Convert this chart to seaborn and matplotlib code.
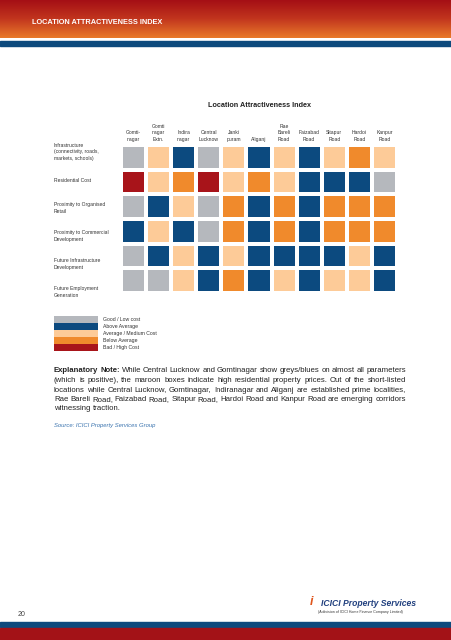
import numpy as np
import pandas as pd
import matplotlib
matplotlib.use("Agg")
import matplotlib.pyplot as plt
import seaborn as sns
from matplotlib.colors import ListedColormap, LinearSegmentedColormap
from matplotlib.patches import Rectangle

sns.set_theme(style="white")
plt.rcParams['font.family'] = ['Liberation Sans', 'DejaVu Sans']

# ---------------- data ----------------
locations = ["Gomti-\nnagar", "Gomti\nnagar\nExtn.", "Indira\nnagar", "Central\nLucknow",
             "Janki\npuram", "Aliganj", "Rae\nBareli\nRoad", "Faizabad\nRoad",
             "Sitapur\nRoad", "Hardoi\nRoad", "Kanpur\nRoad"]
parameters = ["Infrastructure\n(connectivity, roads,\nmarkets, schools)", "Residential Cost",
              "Proximity to Organised\nRetail", "Proximity to Commercial\nDevelopment",
              "Future Infrastructure\nDevelopment", "Future Employment\nGeneration"]
levels = ["Good / Low cost", "Above Average", "Average / Medium Cost", "Below Average", "Bad / High Cost"]
level_colors = ["#B5B8BD", "#0C4A7F", "#FDCB98", "#F08A2C", "#A8141A"]

# rating level index (0..4 -> levels) per location
infrastructure      = [0, 2, 1, 0, 2, 1, 2, 1, 2, 3, 2]
residential_cost    = [4, 2, 3, 4, 2, 3, 2, 1, 1, 1, 0]
organised_retail    = [0, 1, 2, 0, 3, 1, 3, 1, 3, 3, 3]
commercial_dev      = [1, 2, 1, 0, 3, 1, 3, 1, 3, 3, 3]
future_infra        = [0, 1, 2, 1, 2, 1, 1, 1, 1, 2, 1]
future_employment   = [0, 0, 2, 1, 3, 1, 2, 1, 2, 2, 1]

title = "Location Attractiveness Index"
header = "LOCATION ATTRACTIVENESS INDEX"
note_lines = [
    "While Central Lucknow and Gomtinagar show greys/blues on almost all parameters",
    "(which is positive), the maroon boxes indicate high residential property prices. Out of the short-listed",
    "locations while Central Lucknow, Gomtinagar, Indiranagar and Aliganj are established prime localities,",
    "Rae Bareli Road, Faizabad Road, Sitapur Road, Hardoi Road and Kanpur Road are emerging corridors",
    "witnessing traction.",
]
note_prefix = "Explanatory Note:"
source = "Source: ICICI Property Services Group"

# ---------------- figure ----------------
W, H = 452, 640
fig = plt.figure(figsize=(W / 100, H / 100), dpi=100)
fig.patch.set_facecolor("white")

def fx(px):
    return px / W

def fy(py):
    return 1 - py / H

# header gradient
hax = fig.add_axes([0, fy(38), 1, 38 / H])
grad = LinearSegmentedColormap.from_list("hdr", ["#A50F15", "#C2361E", "#E9792A"])
hax.imshow(np.linspace(0, 1, 64).reshape(-1, 1), aspect="auto", cmap=grad,
           extent=[0, 1, 0, 1])
hax.axis("off")
fig.patches.append(Rectangle((0, fy(46)), 1, 5 / H, transform=fig.transFigure,
                             color="#0D4A7D", zorder=0))
fig.text(fx(32), fy(22), header, color="white", fontsize=5.3, fontweight="bold",
         va="center", ha="left")

# footer bands
fig.patches.append(Rectangle((0, fy(627)), 1, 5 / H, transform=fig.transFigure,
                             color="#0D4A7D", zorder=0))
fig.patches.append(Rectangle((0, 0), 1, 12 / H, transform=fig.transFigure,
                             color="#A31217", zorder=0))
fig.text(fx(18), fy(615), "20", fontsize=5, color="#444444", va="center")
fig.text(fx(310), fy(602), "i", fontsize=9, fontweight="bold", style="italic",
         color="#E0561D", va="center")
fig.text(fx(321), fy(603), "ICICI Property Services", fontsize=6.2, fontweight="bold",
         style="italic", color="#21407F", va="center")
fig.text(fx(318), fy(612), "(A division of ICICI Home Finance Company Limited)",
         fontsize=2.6, color="#333333", va="center")

# ---------------- heatmap ----------------
cmap = ListedColormap(level_colors)
df = pd.DataFrame([infrastructure, residential_cost, organised_retail,
                   commercial_dev, future_infra, future_employment],
                  index=parameters, columns=locations)

ax = fig.add_axes([fx(121), fy(293), 276 / W, 148 / H])
sns.heatmap(df, ax=ax, cmap=cmap, vmin=-0.5, vmax=4.5, cbar=False,
            linewidths=1.5, linecolor="white", xticklabels=True, yticklabels=False)
ax.xaxis.tick_top()
ax.set_xticklabels(locations, rotation=0, fontsize=3.6, ha="center", va="bottom",
                   linespacing=1.3, color="#333333")
ax.tick_params(axis="x", length=0, pad=2.5)
ax.tick_params(axis="y", length=0)
ax.set_xlabel("")
ax.set_ylabel("")
ax.set_title(title, fontsize=5.2, fontweight="bold", color="#222222",
             y=1 + (145 - 114) / 148, va="center")

for i, lab in enumerate(parameters):
    fig.text(fx(54), fy(152 + 28 * i), lab, ha="left", va="center", fontsize=3.6,
             linespacing=1.3, color="#333333")

# ---------------- legend ----------------
lax = fig.add_axes([fx(54), fy(351), 44 / W, 35 / H])
leg_df = pd.DataFrame({"v": list(range(len(levels)))}, index=levels)
sns.heatmap(leg_df, ax=lax, cmap=cmap, vmin=-0.5, vmax=4.5, cbar=False,
            xticklabels=False, yticklabels=True)
lax.yaxis.tick_right()
lax.set_yticklabels(levels, rotation=0, fontsize=3.7, ha="left", va="center",
                    color="#333333")
lax.tick_params(axis="y", length=0, pad=3.5, right=False, left=False)
lax.set_xlabel("")
lax.set_ylabel("")

# ---------------- justified note ----------------
renderer = fig.canvas.get_renderer()
x0, x1 = 54, 406

# choose a font size so that the longest line fits with natural word spacing
probe = fig.text(0, 0, note_lines[1], fontsize=6)
natural = probe.get_window_extent(renderer).width
probe.remove()
note_size = 6 * (x1 - x0) * 0.985 / natural

ys = [371, 380.5, 390, 399.5, 409]
for li, line in enumerate(note_lines):
    words = [(w, "normal") for w in line.split(" ")]
    if li == 0:
        words = [(w, "bold") for w in note_prefix.split(" ")] + words
    texts = []
    widths = []
    for w, wt in words:
        t = fig.text(0, fy(ys[li]), w, fontsize=note_size, fontweight=wt,
                     color="#222222", va="center", ha="left")
        texts.append(t)
        widths.append(t.get_window_extent(renderer).width)
    if li < len(note_lines) - 1:
        gap = (x1 - x0 - sum(widths)) / (len(words) - 1)
    else:
        gap = note_size * 0.28 * 100 / 72
    x = x0
    for t, wd in zip(texts, widths):
        t.set_x(fx(x))
        x += wd + gap

fig.text(fx(54), fy(425), source, fontsize=4.2, style="italic", color="#3A73AE",
         va="center", ha="left")

fig.savefig("out.png", dpi=100, facecolor="white")
